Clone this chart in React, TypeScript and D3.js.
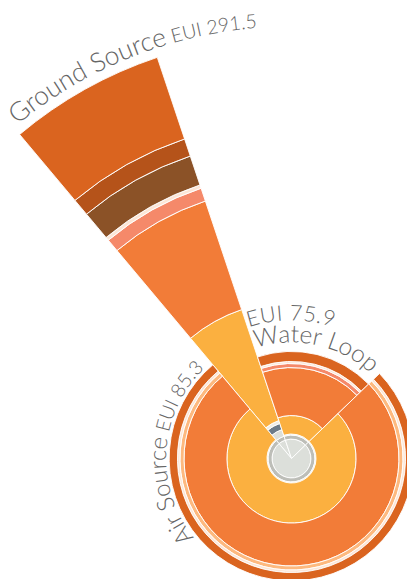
import React from "react";
import * as d3 from "d3";

// ---- data ----
const sectors = ["Ground Source", "Water Loop", "Air Source"];
const euiTotals = [291.5, 75.9, 85.3];
const sectorShare = [21.5, 64.5, 274];

const endUses = [
  "Base Core",
  "Base Ring",
  "Base Outer",
  "Pumps",
  "Misc",
  "Lighting",
  "Equipment",
  "Fans",
  "Heat Rejection",
  "Water Systems",
  "Heating",
  "Cooling",
  "Compressors",
];
const endUseColors = [
  "#DCDFDA",
  "#BDBEB8",
  "#DCDFDA",
  "#6C7B88",
  "#EEEDE6",
  "#FBB040",
  "#F27C38",
  "#FDB97F",
  "#F5896A",
  "#FCE6D6",
  "#8B5227",
  "#B5531A",
  "#DA641F",
];

const baseCore = [13.4, 13.4, 13.4];
const baseRing = [2.8, 2.8, 2.8];
const baseOuter = [4.8, 0.7, 0.7];
const pumps = [4.5, 0, 0];
const misc = [2.1, 0, 0];
const lighting = [80.6, 12.7, 27.6];
const equipment = [78.9, 33.1, 29.6];
const fans = [0, 0, 2.8];
const heatRejection = [9.3, 2.8, 0];
const waterSystems = [2.4, 1.4, 1.7];
const heating = [21.0, 0, 0];
const cooling = [12.4, 0, 0];
const compressors = [59.3, 6.9, 5.7];

const seriesValues = [
  baseCore,
  baseRing,
  baseOuter,
  pumps,
  misc,
  lighting,
  equipment,
  fans,
  heatRejection,
  waterSystems,
  heating,
  cooling,
  compressors,
];

// ---- layout ----
const W = 407;
const H = 579;
const CX = 291.5;
const CY = 458.5;
const deg = Math.PI / 180;
const TEXT = "#666666";
const FONT = "Lato, 'DejaVu Sans', sans-serif";

function arcPath(r: number, a0: number, a1: number) {
  const p = d3.path();
  p.moveTo(Math.sin(a0) * r, -Math.cos(a0) * r);
  p.arc(0, 0, r, a0 - Math.PI / 2, a1 - Math.PI / 2, false);
  return p.toString();
}

export default function App() {
  const rows = sectors.map((s, i) => {
    const o: Record<string, number> = {};
    endUses.forEach((k, j) => (o[k] = seriesValues[j][i]));
    return o;
  });
  const stacked = d3.stack<Record<string, number>>().keys(endUses)(rows);

  const r = d3.scaleLinear().domain([0, 291.5]).range([0, 423]);

  const pie = d3
    .pie<number>()
    .value((d) => d)
    .sort(null)
    .startAngle(-40 * deg)
    .endAngle(320 * deg)(sectorShare);

  const arc = d3.arc<any>();

  const outer = sectors.map((_, i) => r(stacked[stacked.length - 1][i][1]));

  return (
    <svg
      width={W}
      height={H}
      style={{ position: "fixed", left: 0, top: 0, background: "#fff" }}
    >
      <g transform={`translate(${CX},${CY})`}>
        {sectors.map((s, i) => (
          <g key={s}>
            {stacked.map((layer, j) => {
              const d = layer[i];
              if (d[1] - d[0] <= 0) return null;
              return (
                <path
                  key={endUses[j]}
                  d={
                    arc({
                      innerRadius: r(d[0]),
                      outerRadius: r(d[1]),
                      startAngle: pie[i].startAngle,
                      endAngle: pie[i].endAngle,
                    }) as string
                  }
                  fill={endUseColors[j]}
                  stroke="#fff"
                  strokeWidth={0.9}
                />
              );
            })}
          </g>
        ))}

        <defs>
          <path
            id="lbl-gs"
            d={arcPath(outer[0] + 9, pie[0].startAngle + 0.6 * deg, pie[0].startAngle + 60 * deg)}
          />
          <path
            id="lbl-wl"
            d={arcPath(outer[1] + 9, pie[1].startAngle + 0.5 * deg, pie[1].startAngle + 120 * deg)}
          />
          <path
            id="lbl-wl-eui"
            d={arcPath(outer[1] + 31, pie[1].startAngle + 0.5 * deg, pie[1].startAngle + 120 * deg)}
          />
          <path
            id="lbl-as"
            d={arcPath(outer[2] + 3, 180 * deg, pie[2].endAngle - 4 * deg)}
          />
        </defs>

        <text fill={TEXT} fontFamily={FONT} fontWeight={300}>
          <textPath href="#lbl-gs" startOffset={0}>
            <tspan fontSize={26.5}>{sectors[0]}</tspan>
            <tspan fontSize={19.5}>{` EUI ${euiTotals[0]}`}</tspan>
          </textPath>
        </text>
        <text fill={TEXT} fontFamily={FONT} fontWeight={300} fontSize={24.5}>
          <textPath href="#lbl-wl" startOffset={0}>
            {sectors[1]}
          </textPath>
        </text>
        <text
          fill={TEXT}
          fontFamily={FONT}
          fontWeight={300}
          fontSize={21.5}
          letterSpacing={0.5}
        >
          <textPath href="#lbl-wl-eui" startOffset={0}>
            {`EUI ${euiTotals[1]}`}
          </textPath>
        </text>
        <text fill={TEXT} fontFamily={FONT} fontWeight={300} textAnchor="end">
          <textPath href="#lbl-as" startOffset="100%">
            <tspan fontSize={24}>{sectors[2]}</tspan>
            <tspan fontSize={19.5}>{` EUI ${euiTotals[2]}`}</tspan>
          </textPath>
        </text>
      </g>
    </svg>
  );
}
